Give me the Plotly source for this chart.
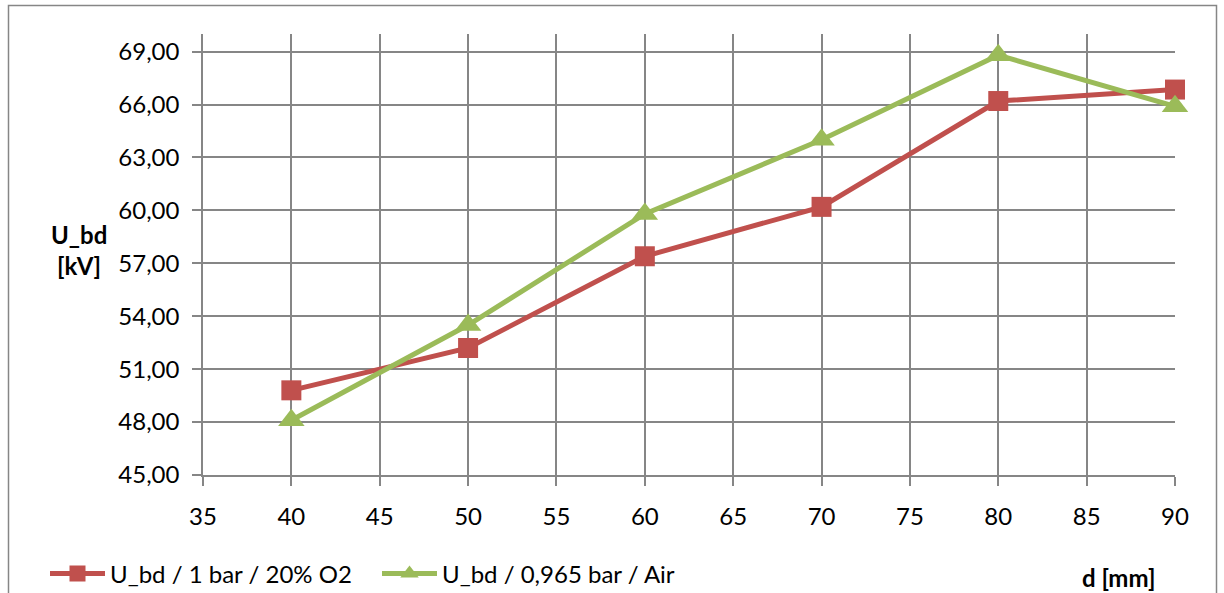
import plotly.graph_objects as go

# Gap distance d [mm] and breakdown voltage U_bd [kV]
d_mm = [40, 50, 60, 70, 80, 90]
u_o2 = [49.8, 52.2, 57.4, 60.2, 66.2, 66.85]
u_air = [48.1, 53.5, 59.8, 64.0, 68.8, 65.9]

name_o2 = "U_bd / 1 bar / 20% O2"
name_air = "U_bd / 0,965 bar / Air"

y_ticks = [45, 48, 51, 54, 57, 60, 63, 66, 69]
y_tick_text = [f"{v:.2f}".replace(".", ",") for v in y_ticks]

RED = "#C0504D"
GREEN = "#9BBB59"
GRID = "#868686"
FONT = "Lato"
FS = 24

W, H = 1224, 593
L, R, T, B = 203, 49, 34, 118
pw, ph = W - L - R, H - T - B


def px(x):
    return (x - L) / pw


def py(y):
    return (H - B - y) / ph


fig = go.Figure()
fig.add_trace(go.Scatter(
    x=d_mm, y=u_o2, name=name_o2, mode="lines+markers", cliponaxis=False,
    line=dict(color=RED, width=5),
    marker=dict(symbol="square", size=20, color=RED),
))
fig.add_trace(go.Scatter(
    x=d_mm, y=u_air, name=name_air, mode="lines+markers", cliponaxis=False,
    line=dict(color=GREEN, width=5),
    marker=dict(symbol="triangle-up", size=23, color=GREEN),
))

axis_common = dict(
    showgrid=True, gridcolor=GRID, gridwidth=1.5,
    showline=True, linecolor=GRID, linewidth=1.5,
    ticks="outside", tickcolor=GRID, ticklen=9, tickwidth=1.5,
    zeroline=False, automargin=False,
    tickfont=dict(family=FONT, size=FS, color="black"),
)

fig.update_xaxes(range=[35, 90], tick0=35, dtick=5, ticklabelstandoff=10,
                 **axis_common)
fig.update_yaxes(range=[45, 70], tickvals=y_ticks, ticktext=y_tick_text,
                 ticklabelstandoff=8, **axis_common)

fig.add_annotation(x=px(79), y=py(250), xref="paper", yref="paper",
                   xanchor="center", yanchor="middle",
                   text="<b>U_bd<br>[kV]</b>", showarrow=False,
                   font=dict(family=FONT, size=FS, color="black"),
                   align="center")
fig.add_annotation(x=px(1118), y=py(577), xref="paper", yref="paper",
                   xanchor="center", yanchor="middle",
                   text="<b>d [mm]</b>", showarrow=False,
                   font=dict(family=FONT, size=FS, color="black"))

# outer chart frame
fig.add_shape(type="rect", xref="paper", yref="paper",
              x0=px(8.5), x1=px(1216.5), y0=py(620), y1=py(5.5),
              line=dict(color=GRID, width=1.5), layer="below")

fig.update_layout(
    width=W, height=H,
    margin=dict(l=L, r=R, t=T, b=B, autoexpand=False),
    paper_bgcolor="white", plot_bgcolor="white",
    font=dict(family=FONT, size=FS, color="black"),
    showlegend=True,
    legend=dict(orientation="h", x=px(45), y=py(574), xanchor="left",
                yanchor="middle", itemwidth=55,
                entrywidth=262, entrywidthmode="pixels",
                font=dict(family=FONT, size=FS, color="black"),
                bgcolor="rgba(0,0,0,0)"),
)

fig.write_html("out.html")
